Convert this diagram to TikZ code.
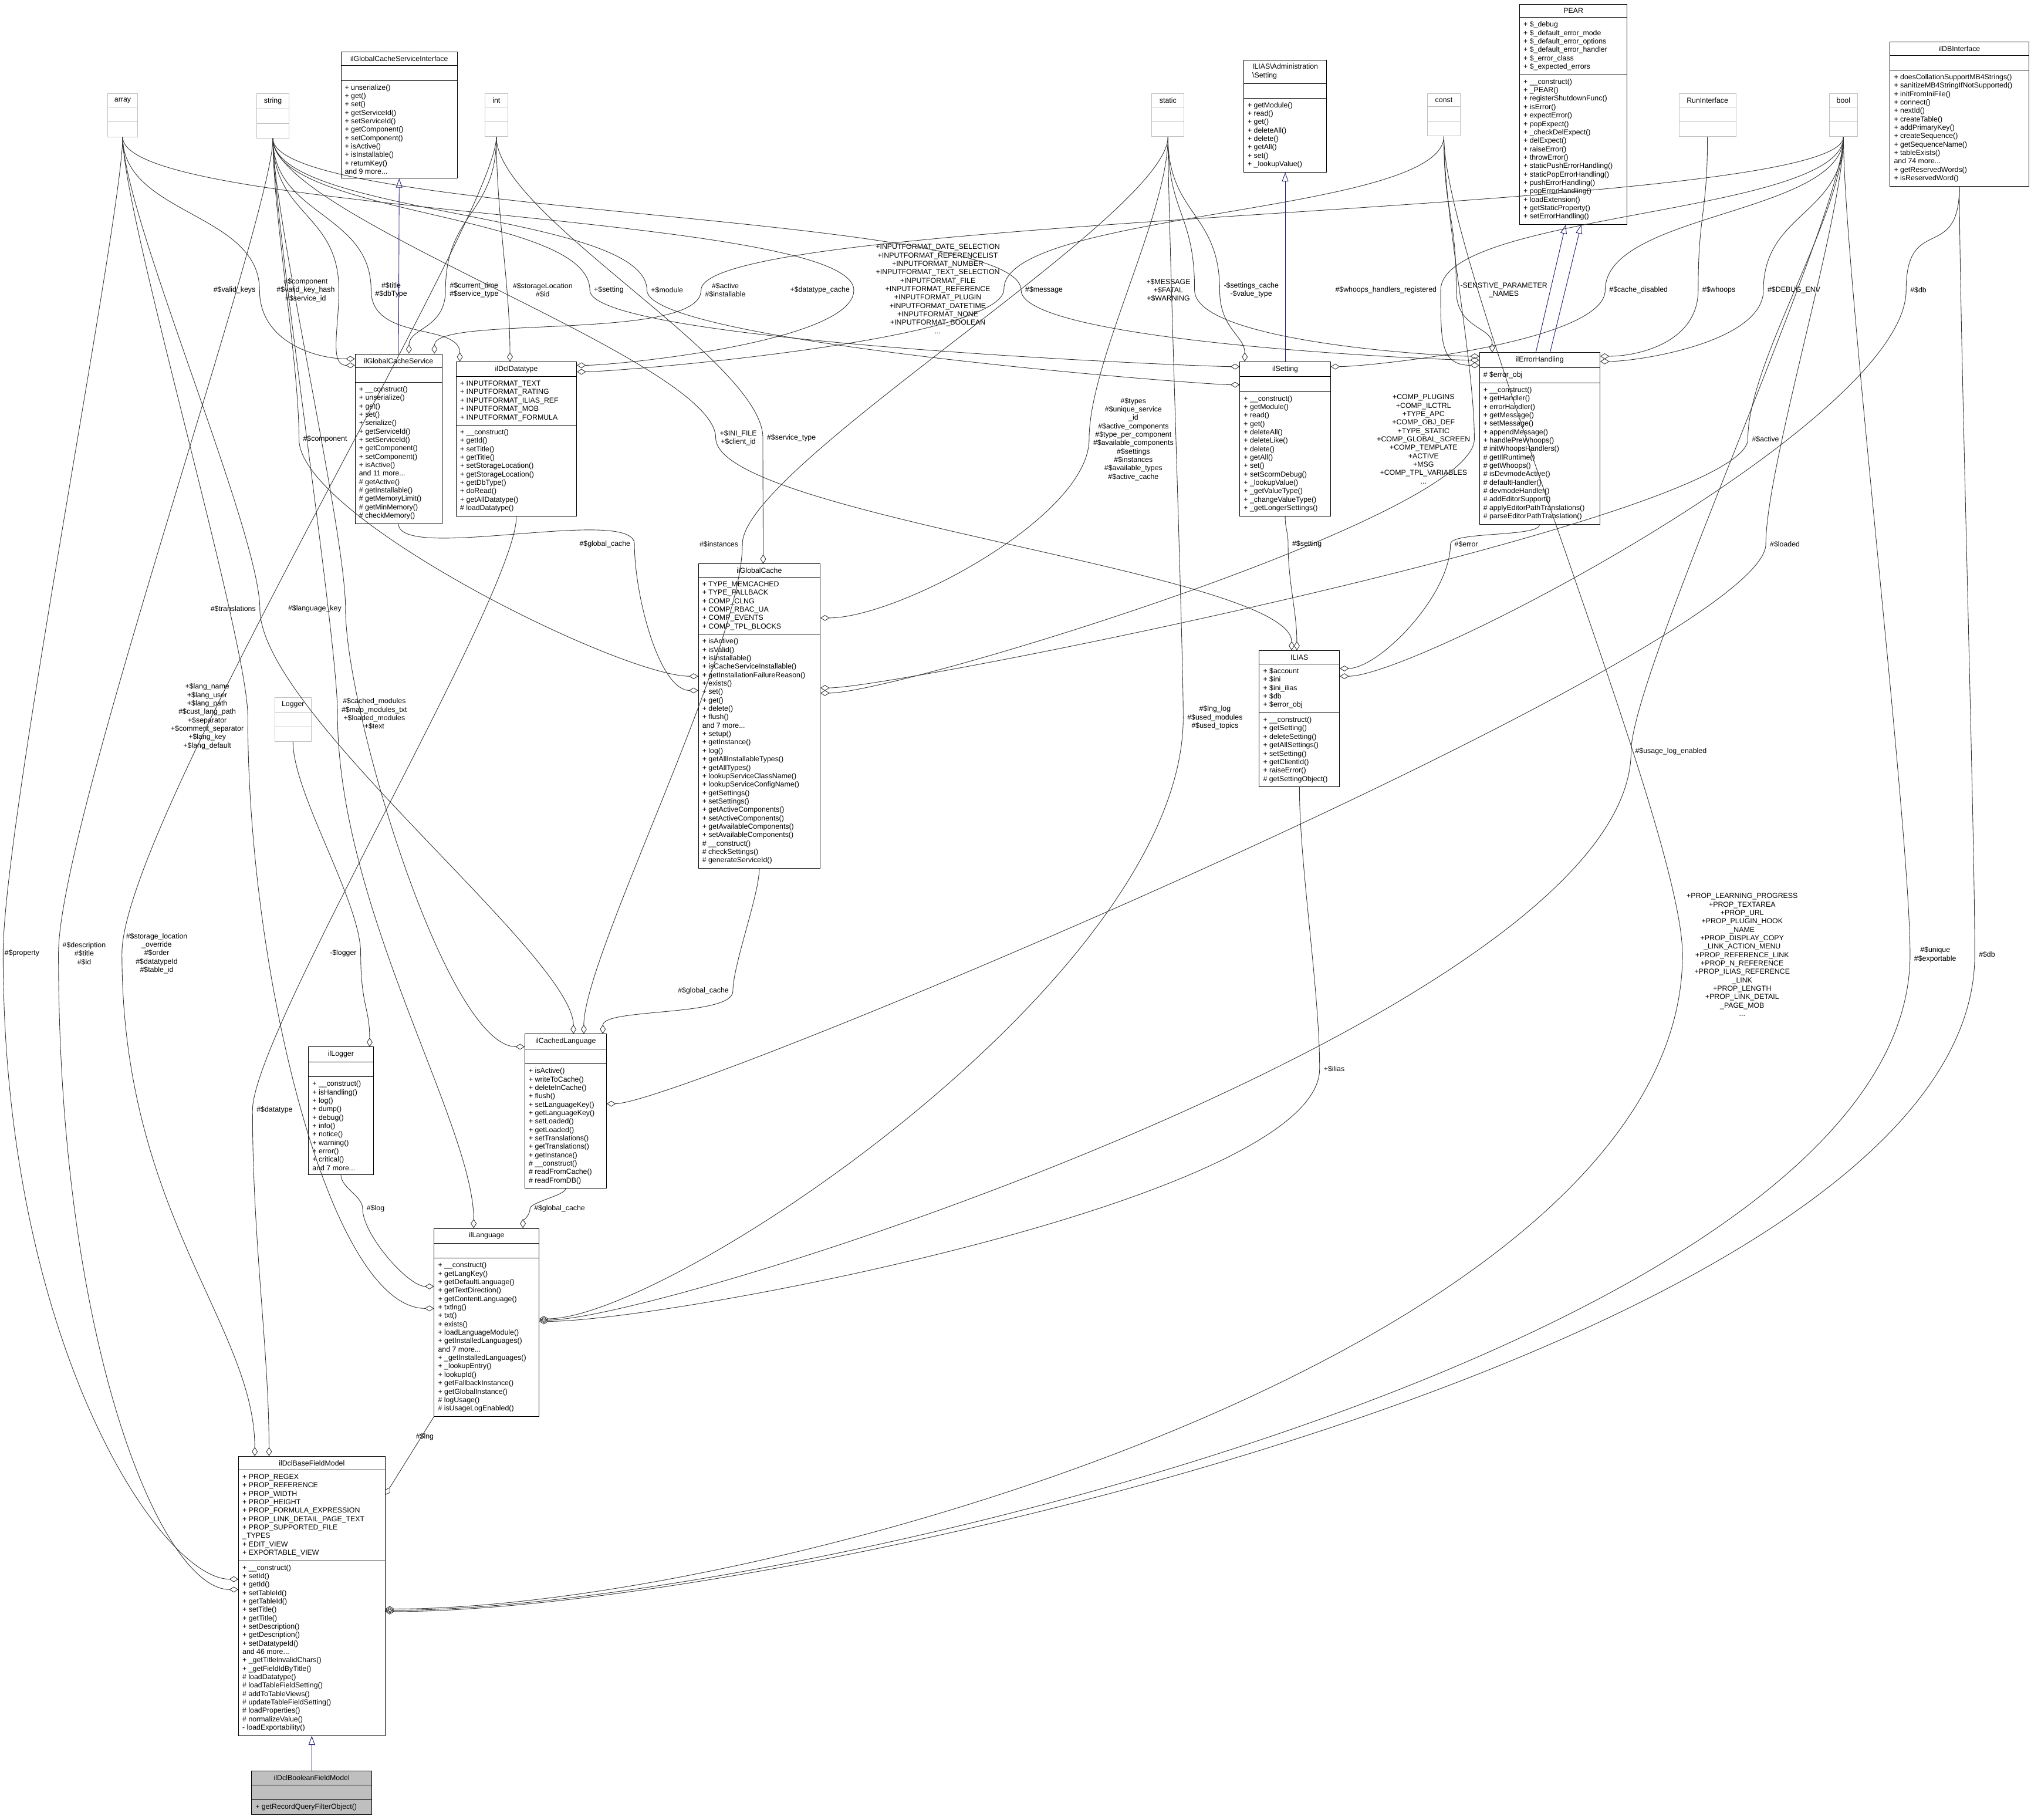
\documentclass[tikz,border=0pt]{standalone}
\usepackage{fontspec}
\newfontfamily\dxfont{Liberation Sans}
\usetikzlibrary{shapes.multipart,arrows.meta}
\definecolor{dxnavy}{HTML}{191970}
\definecolor{dxgray}{HTML}{BFBFBF}
\tikzset{
    cls/.style={draw=black, rectangle split, rectangle split parts=3,
        rectangle split part align={center,left,left}, rectangle split empty part height=5pt,
        rectangle split ignore empty parts=false,
        inner xsep=3pt, inner ysep=3pt, align=left, anchor=north west,
        font=\dxfont\fontsize{5.6}{6.5}\selectfont},
    prim/.style={cls, draw=dxgray},
    lbl/.style={font=\dxfont\fontsize{5.6}{6.5}\selectfont, align=center, inner sep=0pt},
    agg/.style={draw=black!80, line width=0.4pt, -{Diamond[open,length=7pt,width=4.5pt]}},
    inh/.style={draw=dxnavy, line width=0.4pt, -{Triangle[open,length=7pt,width=5pt]}}
}
\begin{document}
\begin{tikzpicture}[x=1pt,y=1pt]
    \useasboundingbox (0,0) rectangle (1568,-1404.6);

    % plain types
    \node[prim, minimum width=23pt] (array) at (83,-72) {array \nodepart{two} \nodepart{three}};
    \node[prim, minimum width=25pt] (string) at (198,-72) {string \nodepart{two} \nodepart{three}};
    \node[prim, minimum width=18pt] (int) at (374,-72) {int \nodepart{two} \nodepart{three}};
    \node[prim, minimum width=25pt] (static) at (889,-72) {static \nodepart{two} \nodepart{three}};
    \node[prim, minimum width=25pt] (const) at (1102,-72) {const \nodepart{two} \nodepart{three}};
    \node[prim, minimum width=44pt] (runif) at (1296,-72) {RunInterface \nodepart{two} \nodepart{three}};
    \node[prim, minimum width=22pt] (bool) at (1412,-72) {bool \nodepart{two} \nodepart{three}};
    \node[prim, minimum width=28pt] (logger) at (212,-538) {Logger \nodepart{two} \nodepart{three}};

    % classes
    \node[cls, minimum width=90pt] (iface) at (263,-40) {ilGlobalCacheServiceInterface \nodepart{two} \nodepart{three}
        + unserialize()\\+ get()\\+ set()\\+ getServiceId()\\+ setServiceId()\\+ getComponent()\\+ setComponent()\\+ isActive()\\+ isInstallable()\\+ returnKey()\\and 9 more...};
    \node[cls, minimum width=64pt] (admset) at (960,-46) {ILIAS\textbackslash Administration\\\textbackslash Setting \nodepart{two} \nodepart{three}
        + getModule()\\+ read()\\+ get()\\+ deleteAll()\\+ delete()\\+ getAll()\\+ set()\\+ \_lookupValue()};
    \node[cls, minimum width=83pt] (pear) at (1173,-3) {PEAR \nodepart{two}
        + \$\_debug\\+ \$\_default\_error\_mode\\+ \$\_default\_error\_options\\+ \$\_default\_error\_handler\\+ \$\_error\_class\\+ \$\_expected\_errors
        \nodepart{three}
        + \_\_construct()\\+ \_PEAR()\\+ registerShutdownFunc()\\+ isError()\\+ expectError()\\+ popExpect()\\+ \_checkDelExpect()\\+ delExpect()\\+ raiseError()\\+ throwError()\\+ staticPushErrorHandling()\\+ staticPopErrorHandling()\\+ pushErrorHandling()\\+ popErrorHandling()\\+ loadExtension()\\+ getStaticProperty()\\+ setErrorHandling()};
    \node[cls, minimum width=107pt] (dbif) at (1459,-32) {ilDBInterface \nodepart{two} \nodepart{three}
        + doesCollationSupportMB4Strings()\\+ sanitizeMB4StringIfNotSupported()\\+ initFromIniFile()\\+ connect()\\+ nextId()\\+ createTable()\\+ addPrimaryKey()\\+ createSequence()\\+ getSequenceName()\\+ tableExists()\\and 74 more...\\+ getReservedWords()\\+ isReservedWord()};
    \node[cls, minimum width=67pt] (gcs) at (274,-273) {ilGlobalCacheService \nodepart{two} \nodepart{three}
        + \_\_construct()\\+ unserialize()\\+ get()\\+ set()\\+ serialize()\\+ getServiceId()\\+ setServiceId()\\+ getComponent()\\+ setComponent()\\+ isActive()\\and 11 more...\\\# getActive()\\\# getInstallable()\\\# getMemoryLimit()\\\# getMinMemory()\\\# checkMemory()};
    \node[cls, minimum width=93pt] (ddt) at (352,-279) {ilDclDatatype \nodepart{two}
        + INPUTFORMAT\_TEXT\\+ INPUTFORMAT\_RATING\\+ INPUTFORMAT\_ILIAS\_REF\\+ INPUTFORMAT\_MOB\\+ INPUTFORMAT\_FORMULA
        \nodepart{three}
        + \_\_construct()\\+ getId()\\+ setTitle()\\+ getTitle()\\+ setStorageLocation()\\+ getStorageLocation()\\+ getDbType()\\+ doRead()\\+ getAllDatatype()\\\# loadDatatype()};
    \node[cls, minimum width=70pt] (ilset) at (957,-279) {ilSetting \nodepart{two} \nodepart{three}
        + \_\_construct()\\+ getModule()\\+ read()\\+ get()\\+ deleteAll()\\+ deleteLike()\\+ delete()\\+ getAll()\\+ set()\\+ setScormDebug()\\+ \_lookupValue()\\+ \_getValueType()\\+ \_changeValueType()\\+ \_getLongerSettings()};
    \node[cls, minimum width=93pt] (ileh) at (1142,-272) {ilErrorHandling \nodepart{two} \# \$error\_obj \nodepart{three}
        + \_\_construct()\\+ getHandler()\\+ errorHandler()\\+ getMessage()\\+ setMessage()\\+ appendMessage()\\+ handlePreWhoops()\\\# initWhoopsHandlers()\\\# getIlRuntime()\\\# getWhoops()\\\# isDevmodeActive()\\\# defaultHandler()\\\# devmodeHandler()\\\# addEditorSupport()\\\# applyEditorPathTranslations()\\\# parseEditorPathTranslation()};
    \node[cls, minimum width=94pt] (gc) at (539,-435) {ilGlobalCache \nodepart{two}
        + TYPE\_MEMCACHED\\+ TYPE\_FALLBACK\\+ COMP\_CLNG\\+ COMP\_RBAC\_UA\\+ COMP\_EVENTS\\+ COMP\_TPL\_BLOCKS
        \nodepart{three}
        + isActive()\\+ isValid()\\+ isInstallable()\\+ isCacheServiceInstallable()\\+ getInstallationFailureReason()\\+ exists()\\+ set()\\+ get()\\+ delete()\\+ flush()\\and 7 more...\\+ setup()\\+ getInstance()\\+ log()\\+ getAllInstallableTypes()\\+ getAllTypes()\\+ lookupServiceClassName()\\+ lookupServiceConfigName()\\+ getSettings()\\+ setSettings()\\+ getActiveComponents()\\+ setActiveComponents()\\+ getAvailableComponents()\\+ setAvailableComponents()\\\# \_\_construct()\\\# checkSettings()\\\# generateServiceId()};
    \node[cls, minimum width=62pt] (ilias) at (972,-502) {ILIAS \nodepart{two}
        + \$account\\+ \$ini\\+ \$ini\_ilias\\+ \$db\\+ \$error\_obj
        \nodepart{three}
        + \_\_construct()\\+ getSetting()\\+ deleteSetting()\\+ getAllSettings()\\+ setSetting()\\+ getClientId()\\+ raiseError()\\\# getSettingObject()};
    \node[cls, minimum width=50pt] (ilog) at (238,-808) {ilLogger \nodepart{two} \nodepart{three}
        + \_\_construct()\\+ isHandling()\\+ log()\\+ dump()\\+ debug()\\+ info()\\+ notice()\\+ warning()\\+ error()\\+ critical()\\and 7 more...};
    \node[cls, minimum width=63pt] (cl) at (405,-798) {ilCachedLanguage \nodepart{two} \nodepart{three}
        + isActive()\\+ writeToCache()\\+ deleteInCache()\\+ flush()\\+ setLanguageKey()\\+ getLanguageKey()\\+ setLoaded()\\+ getLoaded()\\+ setTranslations()\\+ getTranslations()\\+ getInstance()\\\# \_\_construct()\\\# readFromCache()\\\# readFromDB()};
    \node[cls, minimum width=81pt] (ilang) at (335,-948) {ilLanguage \nodepart{two} \nodepart{three}
        + \_\_construct()\\+ getLangKey()\\+ getDefaultLanguage()\\+ getTextDirection()\\+ getContentLanguage()\\+ txtlng()\\+ txt()\\+ exists()\\+ loadLanguageModule()\\+ getInstalledLanguages()\\and 7 more...\\+ \_getInstalledLanguages()\\+ \_lookupEntry()\\+ lookupId()\\+ getFallbackInstance()\\+ getGlobalInstance()\\\# logUsage()\\\# isUsageLogEnabled()};
    \node[cls, minimum width=113pt] (bfm) at (184,-1124) {ilDclBaseFieldModel \nodepart{two}
        + PROP\_REGEX\\+ PROP\_REFERENCE\\+ PROP\_WIDTH\\+ PROP\_HEIGHT\\+ PROP\_FORMULA\_EXPRESSION\\+ PROP\_LINK\_DETAIL\_PAGE\_TEXT\\+ PROP\_SUPPORTED\_FILE\\\_TYPES\\+ EDIT\_VIEW\\+ EXPORTABLE\_VIEW
        \nodepart{three}
        + \_\_construct()\\+ setId()\\+ getId()\\+ setTableId()\\+ getTableId()\\+ setTitle()\\+ getTitle()\\+ setDescription()\\+ getDescription()\\+ setDatatypeId()\\and 46 more...\\+ \_getTitleInvalidChars()\\+ \_getFieldIdByTitle()\\\# loadDatatype()\\\# loadTableFieldSetting()\\\# addToTableViews()\\\# updateTableFieldSetting()\\\# loadProperties()\\\# normalizeValue()\\- loadExportability()};
    \node[cls, fill=dxgray, minimum width=93pt] (boolfm) at (194,-1367) {ilDclBooleanFieldModel \nodepart{two} \nodepart{three}
        + getRecordQueryFilterObject()};

    % member labels
    \node[lbl] (lvk) at (181,-224) {\#\$valid\_keys};
    \node[lbl] (lcomp) at (236,-224) {\#\$component\\\#\$valid\_key\_hash\\\#\$service\_id};
    \node[lbl] (ltitle) at (302,-224) {\#\$title\\\#\$dbType};
    \node[lbl] (lct) at (366,-224) {\#\$current\_time\\\#\$service\_type};
    \node[lbl] (lsl) at (419,-224) {\#\$storageLocation\\\#\$id};
    \node[lbl] (lset) at (470,-224) {+\$setting};
    \node[lbl] (lmod) at (515,-224) {+\$module};
    \node[lbl] (lact) at (560,-224) {\#\$active\\\#\$installable};
    \node[lbl] (ldc) at (633,-224) {+\$datatype\_cache};
    \node[lbl] (linp) at (724,-223) {+INPUTFORMAT\_DATE\_SELECTION\\+INPUTFORMAT\_REFERENCELIST\\+INPUTFORMAT\_NUMBER\\+INPUTFORMAT\_TEXT\_SELECTION\\+INPUTFORMAT\_FILE\\+INPUTFORMAT\_REFERENCE\\+INPUTFORMAT\_PLUGIN\\+INPUTFORMAT\_DATETIME\\+INPUTFORMAT\_NONE\\+INPUTFORMAT\_BOOLEAN\\...};
    \node[lbl] (lmsg) at (806,-224) {\#\$message};
    \node[lbl] (lmes) at (902,-224) {+\$MESSAGE\\+\$FATAL\\+\$WARNING};
    \node[lbl] (lsc) at (966,-224) {-\$settings\_cache\\-\$value\_type};
    \node[lbl] (lwh) at (1070,-224) {\#\$whoops\_handlers\_registered};
    \node[lbl] (lsen) at (1161,-224) {-SENSTIVE\_PARAMETER\\\_NAMES};
    \node[lbl] (lcd) at (1265,-224) {\#\$cache\_disabled};
    \node[lbl] (lwhoops) at (1327,-224) {\#\$whoops};
    \node[lbl] (ldebug) at (1385,-224) {\#\$DEBUG\_ENV};
    \node[lbl] (ldba) at (1481,-224) {\#\$db};
    \node[lbl] (lcomp2) at (251,-339) {\#\$component};
    \node[lbl] (ltypes) at (875,-339) {\#\$types\\\#\$unique\_service\\\_id\\\#\$active\_components\\\#\$type\_per\_component\\\#\$available\_components\\\#\$settings\\\#\$instances\\\#\$available\_types\\\#\$active\_cache};
    \node[lbl] (lact2) at (1363,-339) {\#\$active};
    \node[lbl] (lini) at (570,-338) {+\$INI\_FILE\\+\$client\_id};
    \node[lbl] (lst) at (611,-338) {\#\$service\_type};
    \node[lbl] (lcomps) at (1099,-339) {+COMP\_PLUGINS\\+COMP\_ILCTRL\\+TYPE\_APC\\+COMP\_OBJ\_DEF\\+TYPE\_STATIC\\+COMP\_GLOBAL\_SCREEN\\+COMP\_TEMPLATE\\+ACTIVE\\+MSG\\+COMP\_TPL\_VARIABLES\\...};
    \node[lbl] (linst) at (555,-420) {\#\$instances};
    \node[lbl] (lsetting) at (1009,-420) {\#\$setting};
    \node[lbl] (lerror) at (1132,-420) {\#\$error};
    \node[lbl] (lloaded) at (1378,-420) {\#\$loaded};
    \node[lbl] (lgc1) at (467,-420) {\#\$global\_cache};
    \node[lbl] (ltrans) at (180,-470) {\#\$translations};
    \node[lbl] (llk) at (243,-470) {\#\$language\_key};
    \node[lbl] (llang) at (160,-553) {+\$lang\_name\\+\$lang\_user\\+\$lang\_path\\\#\$cust\_lang\_path\\+\$separator\\+\$comment\_separator\\+\$lang\_key\\+\$lang\_default};
    \node[lbl] (lcm) at (289,-551) {\#\$cached\_modules\\\#\$map\_modules\_txt\\+\$loaded\_modules\\+\$text};
    \node[lbl] (llng) at (938,-554) {\#\$lng\_log\\\#\$used\_modules\\\#\$used\_topics};
    \node[lbl] (lusage) at (1290,-580) {\#\$usage\_log\_enabled};
    \node[lbl] (lprop) at (17,-736) {\#\$property};
    \node[lbl] (ldesc) at (65,-736) {\#\$description\\\#\$title\\\#\$id};
    \node[lbl] (lsto) at (121,-736) {\#\$storage\_location\\\_override\\\#\$order\\\#\$datatypeId\\\#\$table\_id};
    \node[lbl] (llogger) at (265,-736) {-\$logger};
    \node[lbl] (lgc2) at (543,-765) {\#\$global\_cache};
    \node[lbl] (lilias) at (1030,-825) {+\$ilias};
    \node[lbl] (ldt) at (212,-857) {\#\$datatype};
    \node[lbl] (llog) at (290,-933) {\#\$log};
    \node[lbl] (lgc3) at (432,-933) {\#\$global\_cache};
    \node[lbl] (llngm) at (328,-1109) {\#\$lng};
    \node[lbl] (lpropblk) at (1345,-737) {+PROP\_LEARNING\_PROGRESS\\+PROP\_TEXTAREA\\+PROP\_URL\\+PROP\_PLUGIN\_HOOK\\\_NAME\\+PROP\_DISPLAY\_COPY\\\_LINK\_ACTION\_MENU\\+PROP\_REFERENCE\_LINK\\+PROP\_N\_REFERENCE\\+PROP\_ILIAS\_REFERENCE\\\_LINK\\+PROP\_LENGTH\\+PROP\_LINK\_DETAIL\\\_PAGE\_MOB\\...};
    \node[lbl] (luniq) at (1494,-737) {\#\$unique\\\#\$exportable};
    \node[lbl] (ldbb) at (1534,-737) {\#\$db};

    % inheritance
    \draw[inh] (gcs.north) -- (iface.south);
    \draw[inh] ([xshift=-3pt]ileh.north) -- ([xshift=-6pt]pear.south);
    \draw[inh] ([xshift=8pt]ileh.north) -- ([xshift=6pt]pear.south);
    \draw[inh] (ilset.north) -- (admset.south);
    \draw[inh] (boolfm.north) -- (bfm.south);

    % members of ilGlobalCacheService and ilDclDatatype
    \draw[agg] (array.south) .. controls +(0,-60) and +(0,60) .. ([xshift=3pt]lvk.east) .. controls +(0,-40) and +(-30,0) .. ([yshift=-4pt]gcs.north west);
    \draw[agg] (string.south) .. controls +(0,-60) and +(0,60) .. ([xshift=3pt]lcomp.east) .. controls +(0,-30) and +(-20,0) .. ([yshift=-9pt]gcs.north west);
    \draw[agg] (string.south) .. controls +(0,-60) and +(0,60) .. ([xshift=-3pt]ltitle.west) .. controls +(0,-40) and +(0,30) .. ([xshift=3pt]ddt.north west);
    \draw[agg] (int.south) .. controls +(0,-60) and +(0,60) .. ([xshift=-3pt]lct.west) .. controls +(0,-30) and +(0,20) .. ([xshift=8pt]gcs.north);
    \draw[agg] (int.south) .. controls +(0,-60) and +(0,60) .. ([xshift=-5pt]ddt.north);
    \draw[agg] (bool.south) .. controls +(0,-60) and +(0,60) .. ([xshift=-3pt]lact.west) .. controls +(0,-40) and +(0,30) .. ([xshift=-6pt]gcs.north east);
    \draw[agg] (array.south) .. controls +(0,-60) and +(0,60) .. ([xshift=3pt]ldc.east) .. controls +(0,-40) and +(30,0) .. ([yshift=-3pt]ddt.north east);
    \draw[agg] (const.south) .. controls +(0,-60) and +(0,60) .. ([xshift=3pt]linp.east) .. controls +(0,-40) and +(30,0) .. ([yshift=-8pt]ddt.north east);

    % members of ilSetting and ilErrorHandling
    \draw[agg] (string.south) .. controls +(0,-60) and +(0,60) .. ([xshift=-3pt]lset.west) .. controls +(0,-40) and +(-30,0) .. ([yshift=-4pt]ilset.north west);
    \draw[agg] (string.south) .. controls +(0,-60) and +(0,60) .. ([xshift=-3pt]lmod.west) .. controls +(0,-40) and +(-30,0) .. ([yshift=-18pt]ilset.north west);
    \draw[agg] (static.south) .. controls +(0,-60) and +(0,60) .. ([xshift=-3pt]lsc.west) .. controls +(0,-30) and +(0,20) .. ([xshift=4pt]ilset.north west);
    \draw[agg] (bool.south) .. controls +(0,-60) and +(0,60) .. ([xshift=-3pt]lcd.west) .. controls +(0,-40) and +(30,0) .. ([yshift=-4pt]ilset.north east);
    \draw[agg] (string.south) .. controls +(0,-60) and +(0,60) .. ([xshift=-3pt]lmsg.west) .. controls +(0,-40) and +(-30,0) .. ([yshift=-6pt]ileh.north west);
    \draw[agg] (static.south) .. controls +(0,-60) and +(0,60) .. ([xshift=3pt]lmes.east) .. controls +(0,-40) and +(-30,0) .. ([yshift=-3pt]ileh.north west);
    \draw[agg] (bool.south) .. controls +(0,-60) and +(0,60) .. ([xshift=3pt]lwh.east) .. controls +(0,-40) and +(-30,0) .. ([yshift=-10pt]ileh.north west);
    \draw[agg] (const.south) .. controls +(0,-60) and +(0,60) .. ([xshift=-3pt]lsen.west) .. controls +(0,-30) and +(0,20) .. ([xshift=10pt]ileh.north west);
    \draw[agg] (runif.south) .. controls +(0,-60) and +(0,60) .. ([xshift=-3pt]lwhoops.west) .. controls +(0,-40) and +(30,0) .. ([yshift=-3pt]ileh.north east);
    \draw[agg] (bool.south) .. controls +(0,-60) and +(0,60) .. ([xshift=-3pt]ldebug.west) .. controls +(0,-40) and +(30,0) .. ([yshift=-7pt]ileh.north east);

    % members of ilGlobalCache and ILIAS
    \draw[agg] (string.south) .. controls +(0,-60) and +(0,60) .. ([xshift=-3pt]lcomp2.west) .. controls +(0,-60) and +(-60,0) .. ([yshift=-87pt]gc.north west);
    \draw[agg] (int.south) .. controls +(0,-60) and +(0,60) .. ([xshift=-3pt]lst.west) .. controls +(0,-40) and +(0,30) .. ([xshift=3pt]gc.north);
    \draw[agg] (static.south) .. controls +(0,-60) and +(0,60) .. ([xshift=-3pt]ltypes.west) .. controls +(0,-60) and +(60,0) .. ([yshift=-42pt]gc.north east);
    \draw[agg] (bool.south) .. controls +(0,-60) and +(0,60) .. ([xshift=-3pt]lact2.west) .. controls +(0,-60) and +(60,0) .. ([yshift=-96pt]gc.north east);
    \draw[agg] (const.south) .. controls +(0,-60) and +(0,60) .. ([xshift=3pt]lcomps.east) .. controls +(0,-60) and +(60,0) .. ([yshift=-100pt]gc.north east);
    \draw[agg] (gcs.south) .. controls +(0,-30) and +(0,30) .. ([xshift=3pt]lgc1.east) .. controls +(0,-40) and +(-30,0) .. ([yshift=-98pt]gc.north west);
    \draw[agg] (string.south) .. controls +(0,-60) and +(0,60) .. ([xshift=-3pt]lini.west) .. controls +(0,-60) and +(0,60) .. ([xshift=-6pt]ilias.north);
    \draw[agg] (ilset.south) .. controls +(0,-10) and +(0,10) .. ([xshift=-3pt]lsetting.west) .. controls +(0,-30) and +(0,30) .. ([xshift=-2pt]ilias.north);
    \draw[agg] (ileh.south) .. controls +(0,-10) and +(0,10) .. ([xshift=-3pt]lerror.west) .. controls +(0,-40) and +(30,0) .. ([yshift=-14pt]ilias.north east);
    \draw[agg] (dbif.south) .. controls +(0,-60) and +(0,60) .. ([xshift=-3pt]ldba.west) .. controls +(0,-100) and +(60,0) .. ([yshift=-20pt]ilias.north east);

    % members of ilCachedLanguage and ilLogger
    \draw[agg] (array.south) .. controls +(0,-60) and +(0,60) .. ([xshift=3pt]ltrans.east) .. controls +(0,-80) and +(0,60) .. ([xshift=6pt]cl.north);
    \draw[agg] (string.south) .. controls +(0,-60) and +(0,60) .. ([xshift=3pt]llk.east) .. controls +(0,-80) and +(-60,0) .. ([yshift=-10pt]cl.north west);
    \draw[agg] (static.south) .. controls +(0,-60) and +(0,60) .. ([xshift=3pt]linst.east) .. controls +(0,-80) and +(0,60) .. ([xshift=14pt]cl.north);
    \draw[agg] (bool.south) .. controls +(0,-60) and +(0,60) .. ([xshift=-3pt]lloaded.west) .. controls +(0,-80) and +(60,0) .. ([yshift=-54pt]cl.north east);
    \draw[agg] (gc.south) .. controls +(0,-20) and +(0,20) .. ([xshift=3pt]lgc2.east) .. controls +(0,-20) and +(0,20) .. ([xshift=-3pt]cl.north east);
    \draw[agg] (logger.south) .. controls +(0,-40) and +(0,40) .. ([xshift=3pt]llogger.east) .. controls +(0,-40) and +(0,30) .. ([xshift=-3pt]ilog.north east);

    % members of ilLanguage
    \draw[agg] (ilog.south) .. controls +(0,-10) and +(0,10) .. ([xshift=-3pt]llog.west) .. controls +(0,-20) and +(-20,0) .. ([yshift=-45pt]ilang.north west);
    \draw[agg] (cl.south) .. controls +(0,-5) and +(0,5) .. ([xshift=-3pt]lgc3.west) .. controls +(0,-5) and +(0,5) .. ([xshift=28pt]ilang.north);
    \draw[agg] (array.south) .. controls +(0,-60) and +(0,60) .. ([xshift=3pt]llang.east) .. controls +(0,-200) and +(-80,0) .. ([yshift=-62pt]ilang.north west);
    \draw[agg] (string.south) .. controls +(0,-60) and +(0,60) .. ([xshift=-3pt]lcm.west) .. controls +(0,-150) and +(0,80) .. ([xshift=-10pt]ilang.north);
    \draw[agg] (static.south) .. controls +(0,-60) and +(0,60) .. ([xshift=-3pt]llng.west) .. controls +(0,-200) and +(100,0) .. ([yshift=-70pt]ilang.north east);
    \draw[agg] (bool.south) .. controls +(0,-60) and +(0,60) .. ([xshift=-3pt]lusage.west) .. controls +(0,-200) and +(100,0) .. ([yshift=-71pt]ilang.north east);
    \draw[agg] (ilias.south) .. controls +(0,-60) and +(0,60) .. ([xshift=-3pt]lilias.west) .. controls +(0,-100) and +(100,0) .. ([yshift=-72pt]ilang.north east);

    % members of ilDclBaseFieldModel
    \draw[agg] (array.south) .. controls +(0,-60) and +(0,100) .. ([xshift=-1pt]lprop.west) .. controls +(0,-300) and +(-60,0) .. ([yshift=-95pt]bfm.north west);
    \draw[agg] (string.south) .. controls +(0,-60) and +(0,100) .. ([xshift=-3pt]ldesc.west) .. controls +(0,-300) and +(-60,0) .. ([yshift=-103pt]bfm.north west);
    \draw[agg] (int.south) .. controls +(0,-60) and +(0,100) .. ([xshift=-3pt]lsto.west) .. controls +(0,-200) and +(0,100) .. ([xshift=-44pt]bfm.north);
    \draw[agg] (ddt.south) .. controls +(0,-60) and +(0,60) .. ([xshift=-3pt]ldt.west) .. controls +(0,-100) and +(0,80) .. ([xshift=-33pt]bfm.north);
    \draw[agg] (ilang.south west) -- ([yshift=-30pt]bfm.north east);
    \draw[agg] (const.south) .. controls +(0,-100) and +(0,100) .. ([xshift=-3pt]lpropblk.west) .. controls +(0,-300) and +(300,0) .. ([yshift=-118pt]bfm.north east);
    \draw[agg] (bool.south) .. controls +(0,-100) and +(0,100) .. ([xshift=-3pt]luniq.west) .. controls +(0,-300) and +(300,0) .. ([yshift=-119pt]bfm.north east);
    \draw[agg] (dbif.south) .. controls +(0,-100) and +(0,100) .. ([xshift=-3pt]ldbb.west) .. controls +(0,-300) and +(300,0) .. ([yshift=-120pt]bfm.north east);
\end{tikzpicture}
\end{document}
